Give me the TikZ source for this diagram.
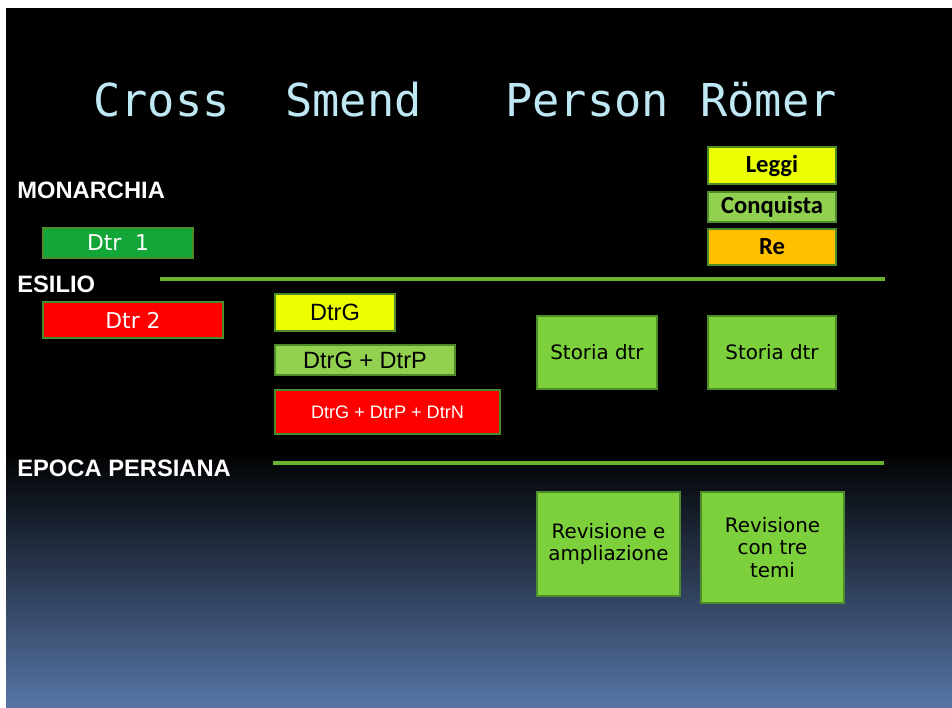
\documentclass[tikz,border=0pt]{standalone}
\usepackage{fontspec}
\setmainfont{DejaVu Sans}
\newfontfamily\titlefont{DejaVu Sans Mono}
\newfontfamily\arialfont{Liberation Sans}
\newfontfamily\calfont{Carlito}
\definecolor{my title}{HTML}{BFE8F5}
\definecolor{my dark green}{HTML}{12A537}
\definecolor{my red}{HTML}{FF0000}
\definecolor{my yellow}{HTML}{EBFF00}
\definecolor{my light green}{HTML}{92D050}
\definecolor{my green}{HTML}{7CD03C}
\definecolor{my orange}{HTML}{FFC000}
\definecolor{my border}{HTML}{4E8C2B}
\definecolor{my line}{HTML}{6BB32E}
\definecolor{my night}{HTML}{5775A6}

\begin{document}
\begin{tikzpicture}[x=0.02cm, y=-0.02cm,
    box/.style={draw=my border, line width=1pt, rectangle, inner sep=0pt, align=center},
    era/.style={anchor=base west, inner sep=0pt, text=white, font=\arialfont\bfseries\fontsize{13.5}{15}\selectfont},
    author/.style={anchor=base west, inner sep=0pt, text=my title, font=\titlefont\fontsize{25.8}{30}\selectfont}]
            \useasboundingbox [fill=white] (0, 0) rectangle (952, 707);
            \fill [black] (6, 8) rectangle (952, 450);
            \shade [top color=black, bottom color=my night] (6, 450) rectangle (952, 707);
            % titolo
            \node [author] (cross) at (93, 116) {Cross};
            \node [author] (smend) at (285, 116) {Smend};
            \node [author] (person) at (505, 116) {Person};
            \node [author] (romer) at (700, 116) {Römer};
            % epoche
            \node [era] (monarchia) at (17, 198) {MONARCHIA};
            \node [era] (esilio) at (17, 292) {ESILIO};
            \node [era] (persiana) at (17, 476) {EPOCA PERSIANA};
            \draw [my line, line width=2.2pt] (160, 279) -- (885, 279);
            \draw [my line, line width=2.2pt] (273, 463) -- (884, 463);
            % Cross
            \node [box, fill=my dark green, text=white, minimum width=3cm, minimum height=0.6cm, font=\fontsize{12.4}{14}\selectfont] (dtr1) at (118, 243) {Dtr\ \ 1};
            \node [box, fill=my red, text=white, minimum width=3.6cm, minimum height=0.72cm, font=\fontsize{12.4}{14}\selectfont] (dtr2) at (133, 320) {Dtr 2};
            % Smend
            \node [box, fill=my yellow, minimum width=2.4cm, minimum height=0.74cm, font=\arialfont\fontsize{13.4}{15}\selectfont] (dtrg) at (335, 312.5) {DtrG};
            \node [box, fill=my light green, minimum width=3.6cm, minimum height=0.6cm, font=\arialfont\fontsize{13.4}{15}\selectfont] (dtrgp) at (365, 360) {DtrG + DtrP};
            \node [box, fill=my red, text=white, minimum width=4.5cm, minimum height=0.88cm, font=\arialfont\fontsize{10.3}{12}\selectfont] (dtrgpn) at (387.5, 412) {DtrG + DtrP + DtrN};
            % Person
            \node [box, fill=my green, minimum width=2.4cm, minimum height=1.46cm, font=\fontsize{11.3}{13}\selectfont] (storia1) at (597, 352.5) {Storia dtr};
            \node [box, fill=my green, minimum width=2.86cm, minimum height=2.08cm, font=\fontsize{11.3}{13}\selectfont] (revisione1) at (608.5, 544) {Revisione e\\ampliazione};
            % Römer
            \node [box, fill=my yellow, minimum width=2.56cm, minimum height=0.74cm, font=\calfont\bfseries\fontsize{14}{16}\selectfont] (leggi) at (772, 165.5) {Leggi};
            \node [box, fill=my light green, minimum width=2.56cm, minimum height=0.6cm, font=\calfont\bfseries\fontsize{14}{16}\selectfont] (conquista) at (772, 207) {Conquista};
            \node [box, fill=my orange, minimum width=2.56cm, minimum height=0.72cm, font=\calfont\bfseries\fontsize{14}{16}\selectfont] (re) at (772, 247) {Re};
            \node [box, fill=my green, minimum width=2.56cm, minimum height=1.46cm, font=\fontsize{11.3}{13}\selectfont] (storia2) at (772, 352.5) {Storia dtr};
            \node [box, fill=my green, minimum width=2.86cm, minimum height=2.22cm, font=\fontsize{11.3}{13}\selectfont] (revisione2) at (772.5, 547.5) {Revisione\\con tre\\temi};
        \end{tikzpicture}
\end{document}
